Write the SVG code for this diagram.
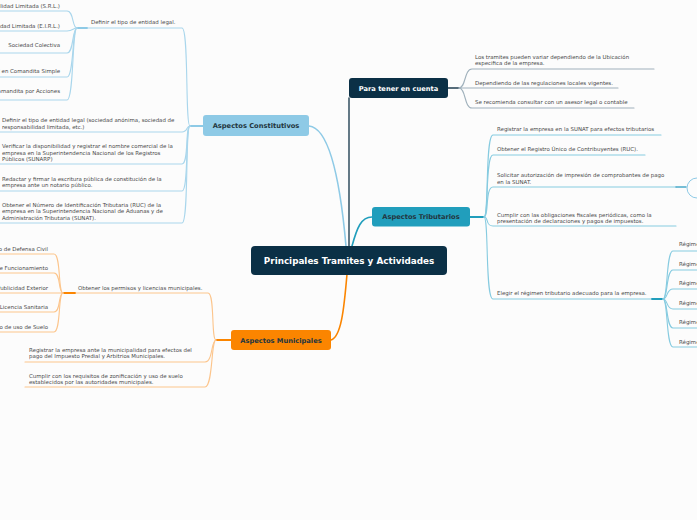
<svg xmlns="http://www.w3.org/2000/svg" width="697" height="520" viewBox="0 0 697 520">
<style>
text{font-family:"DejaVu Sans",Verdana,sans-serif}
.t{font-size:5.45px;fill:#4a4a4a}
.r{text-anchor:end}
.main{font-size:8.8px;font-weight:bold;fill:#ffffff}
.sub{font-size:6.7px;font-weight:bold;fill:#233640;text-anchor:middle}
.subw{font-size:6.7px;font-weight:bold;fill:#ffffff;text-anchor:middle}
.c{fill:none;stroke-linecap:round}
.cb{stroke:#a9d6ec;stroke-width:1.1}
.tb{stroke:#86cbe0;stroke-width:1.1}
.ob{stroke:#fcc58c;stroke-width:1.1}
.gb{stroke:#9fb0bb;stroke-width:1.1}
</style>
<rect width="697" height="520" fill="#fcfcfc"/>
<g id="connectors">
  <path class="c" d="M349,246 L349,98" stroke="#3d5868" stroke-width="1.6"/>
  <path class="c" d="M346,246 C341,190 331,128 309,126" stroke="#8ecae6" stroke-width="1.6"/>
  <path class="c" d="M352,246 C357,228 361,217 372,217" stroke="#219ebc" stroke-width="1.6"/>
  <path class="c" d="M347,274 C344,310 341,337 331,340" stroke="#fb8500" stroke-width="1.6"/>
  <path class="c" d="M448,88 L459,88" stroke="#1f3d4f" stroke-width="1.5"/>
  <path class="c gb" d="M459,88 C466,88 464,69 472,69 L654,69"/>
  <path class="c gb" d="M459,88 L618,88"/>
  <path class="c gb" d="M459,88 C466,88 464,108 472,108 L634,108"/>
  <path class="c" d="M470,217 L484,217" stroke="#219ebc" stroke-width="1.8"/>
  <path class="c tb" d="M484,217 C489,217 485,135 493,135 L661,135"/>
  <path class="c tb" d="M484,217 C489,217 485,155 493,155 L645,155"/>
  <path class="c tb" d="M484,217 C489,217 485,187 493,187 L676,187"/>
  <path class="c tb" d="M484,217 C489,217 485,226 493,226 L676,226"/>
  <path class="c tb" d="M484,217 C489,217 485,299 493,299 L652,299"/>
  <path class="c" d="M676,187 L686,187" stroke="#4aa9c9" stroke-width="1.5"/>
  <circle cx="697" cy="188" r="10" fill="#fcfcfc" stroke="#8ecae6" stroke-width="1"/>
  <path class="c" d="M652,299 L663,299" stroke="#219ebc" stroke-width="1.8"/>
  <path class="c tb" d="M663,299 C668,299 666,251 673,251 L697,251"/>
  <path class="c tb" d="M663,299 C668,299 666,270 673,270 L697,270"/>
  <path class="c tb" d="M663,299 C668,299 666,289 673,289 L697,289"/>
  <path class="c tb" d="M663,299 C668,299 666,309 673,309 L697,309"/>
  <path class="c tb" d="M663,299 C668,299 666,328 673,328 L697,328"/>
  <path class="c tb" d="M663,299 C668,299 666,347 673,347 L697,347"/>
  <path class="c" d="M203,126 L190,126" stroke="#8ecae6" stroke-width="1.8"/>
  <path class="c cb" d="M190,126 C185,126 189,28 182,28 L87,28"/>
  <path class="c cb" d="M190,126 C186,126 188,132 182,132 L0,132"/>
  <path class="c cb" d="M190,126 C185,126 189,164 182,164 L0,164"/>
  <path class="c cb" d="M190,126 C185,126 189,191 182,191 L0,191"/>
  <path class="c cb" d="M190,126 C185,126 189,223 182,223 L0,223"/>
  <path class="c" d="M87,28 L77,28" stroke="#8ecae6" stroke-width="1.8"/>
  <path class="c cb" d="M77,28 C72,28 74,11 67,11 L0,11"/>
  <path class="c cb" d="M77,28 C73,28 73,31 67,31 L0,31"/>
  <path class="c cb" d="M77,28 C72,28 74,53 67,53 L0,53"/>
  <path class="c cb" d="M77,28 C72,28 74,77 67,77 L0,77"/>
  <path class="c cb" d="M77,28 C72,28 74,100 67,100 L0,100"/>
  <path class="c" d="M231,340 L216,340" stroke="#fb8500" stroke-width="1.8"/>
  <path class="c ob" d="M216,340 C211,340 215,293 208,293 L75,293"/>
  <path class="c ob" d="M216,340 C211,340 213,362 205,362 L25,362"/>
  <path class="c ob" d="M216,340 C211,340 213,387 205,387 L25,387"/>
  <path class="c" d="M75,293 L63,293" stroke="#fb8500" stroke-width="1.8"/>
  <path class="c ob" d="M63,293 C58,293 61,254 54,254 L0,254"/>
  <path class="c ob" d="M63,293 C58,293 61,273 54,273 L0,273"/>
  <path class="c ob" d="M63,293 L0,293"/>
  <path class="c ob" d="M63,293 C58,293 61,312 54,312 L0,312"/>
  <path class="c ob" d="M63,293 C58,293 61,332 54,332 L0,332"/>
</g>
<g id="central">
  <rect x="251" y="246" width="196" height="29" rx="4" fill="#0b3046"/>
  <text class="main" x="349" y="264" text-anchor="middle">Principales Tramites y Actividades</text>
</g>
<g id="para-tener">
  <rect x="349" y="78" width="99" height="20" rx="3" fill="#0b3046"/>
  <text class="subw" x="398.5" y="90.5">Para tener en cuenta</text>
  <text class="t" x="475" y="58.5">Los tramites pueden variar dependiendo de la Ubicación</text>
  <text class="t" x="475" y="65">especifica de la empresa.</text>
  <text class="t" x="475" y="85">Dependiendo de las regulaciones locales vigentes.</text>
  <text class="t" x="475" y="104">Se recomienda consultar con un asesor legal o contable</text>
</g>
<g id="tributarios">
  <rect x="372" y="207" width="98" height="19.5" rx="3" fill="#219ebc"/>
  <text class="sub" x="421" y="219.3">Aspectos Tributarios</text>
  <text class="t" x="497" y="131">Registrar la empresa en la SUNAT para efectos tributarios</text>
  <text class="t" x="497" y="150.5">Obtener el Registro Único de Contribuyentes (RUC).</text>
  <text class="t" x="497" y="177">Solicitar autorización de impresión de comprobantes de pago</text>
  <text class="t" x="497" y="183.5">en la SUNAT.</text>
  <text class="t" x="497" y="217">Cumplir con las obligaciones fiscales periódicas, como la</text>
  <text class="t" x="497" y="223">presentación de declaraciones y pagos de impuestos.</text>
  <text class="t" x="497" y="294.5">Elegir el régimen tributario adecuado para la empresa.</text>
  <text class="t" x="679" y="246">Régimen</text>
  <text class="t" x="679" y="266">Régimen</text>
  <text class="t" x="679" y="285">Régimen</text>
  <text class="t" x="679" y="305">Régimen</text>
  <text class="t" x="679" y="324">Régimen</text>
  <text class="t" x="679" y="344">Régimen</text>
</g>
<g id="constitutivos">
  <rect x="203" y="115" width="106" height="21" rx="3" fill="#8ecae6"/>
  <text class="sub" x="256" y="128.2">Aspectos Constitutivos</text>
  <text class="t" x="91" y="23.5">Definir el tipo de entidad legal.</text>
  <text class="t r" x="60" y="7.5">Sociedad Comercial de Responsabilidad Limitada (S.R.L.)</text>
  <text class="t r" x="60" y="27.5">Empresa Individual de Responsabilidad Limitada (E.I.R.L.)</text>
  <text class="t r" x="60" y="47">Sociedad Colectiva</text>
  <text class="t r" x="60" y="73">Sociedad en Comandita Simple</text>
  <text class="t r" x="60" y="93">Sociedad en Comandita por Acciones</text>
  <text class="t" x="2" y="122">Definir el tipo de entidad legal (sociedad anónima, sociedad de</text>
  <text class="t" x="2" y="128.5">responsabilidad limitada, etc.)</text>
  <text class="t" x="2" y="148">Verificar la disponibilidad y registrar el nombre comercial de la</text>
  <text class="t" x="2" y="154.5">empresa en la Superintendencia Nacional de los Registros</text>
  <text class="t" x="2" y="161">Públicos (SUNARP)</text>
  <text class="t" x="2" y="181">Redactar y firmar la escritura pública de constitución de la</text>
  <text class="t" x="2" y="187">empresa ante un notario público.</text>
  <text class="t" x="2" y="207">Obtener el Número de Identificación Tributaria (RUC) de la</text>
  <text class="t" x="2" y="213.3">empresa en la Superintendencia Nacional de Aduanas y de</text>
  <text class="t" x="2" y="219.6">Administración Tributaria (SUNAT).</text>
</g>
<g id="municipales">
  <rect x="231" y="330" width="100" height="20" rx="3" fill="#fb8500"/>
  <text class="sub" x="281" y="342.5">Aspectos Municipales</text>
  <text class="t" x="78" y="289.5">Obtener los permisos y licencias municipales.</text>
  <text class="t r" x="48" y="250.8">Certificado de Defensa Civil</text>
  <text class="t r" x="48" y="270">Licencia de Funcionamiento</text>
  <text class="t r" x="48" y="289.5">Licencia de Publicidad Exterior</text>
  <text class="t r" x="48" y="308.8">Licencia Sanitaria</text>
  <text class="t r" x="48" y="328.8">Certificado de uso de Suelo</text>
  <text class="t" x="29" y="352">Registrar la empresa ante la municipalidad para efectos del</text>
  <text class="t" x="29" y="358">pago del Impuesto Predial y Arbitrios Municipales.</text>
  <text class="t" x="29" y="378">Cumplir con los requisitos de zonificación y uso de suelo</text>
  <text class="t" x="29" y="383.7">establecidos por las autoridades municipales.</text>
</g>
</svg>
